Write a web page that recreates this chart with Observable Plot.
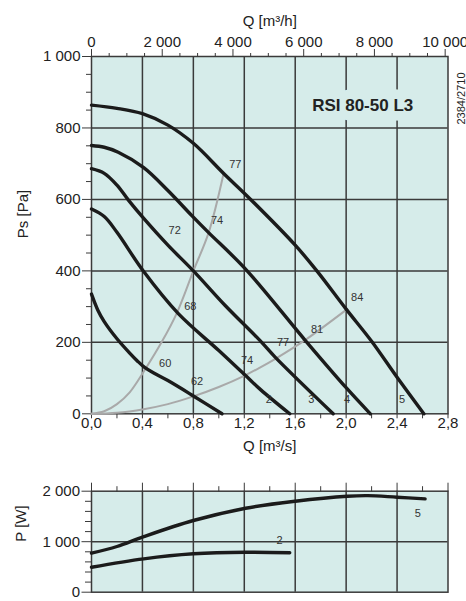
<!DOCTYPE html>
<html><head><meta charset="utf-8">
<script src="https://cdn.jsdelivr.net/npm/d3@7"></script>
<script src="https://cdn.jsdelivr.net/npm/@observablehq/plot@0.6"></script>
<style>
body{margin:0;background:#fff;font-family:"Liberation Sans",Arial,sans-serif;}
#chart svg{display:block}
</style></head><body><div id="chart"></div>
<script>
// ---- data ----
const qTicks = [0, 0.4, 0.8, 1.2, 1.6, 2.0, 2.4, 2.8];
const qMinor = [0.2, 0.6, 1.0, 1.4, 1.8, 2.2, 2.6];
const m3hMajor = [0, 2000, 4000, 6000, 8000, 10000];
const m3hMinor = [500, 1000, 1500, 2500, 3000, 3500, 4500, 5000, 5500, 6500, 7000, 7500, 8500, 9000, 9500];
const psMajor = [0, 200, 400, 600, 800, 1000];
const psMinor = [50, 100, 150, 250, 300, 350, 450, 500, 550, 650, 700, 750, 850, 900, 950];
const pMajor = [0, 1000, 2000];
const pMinor = [200, 400, 600, 800, 1200, 1400, 1600, 1800];

const fan1 = [[0,335],[0.05,290],[0.1,258],[0.2,210],[0.3,170],[0.36,148],[0.42,129],[0.5,112],[0.6,93],[0.8,50],[1.025,0]];
const fan2 = [[0,573],[0.1,552],[0.2,508],[0.41,398],[0.68,281],[1.0,177],[1.21,107],[1.33,67],[1.557,0]];
const fan3 = [[0,686],[0.1,673],[0.2,640],[0.29,598],[0.4,551],[0.6,472],[0.8,400],[1.05,303],[1.326,204],[1.444,158],[1.898,0]];
const fan4 = [[0,751],[0.1,746],[0.21,732],[0.41,689],[0.6,625],[0.79,554],[0.92,507],[1.21,405],[1.68,205],[2.0,73],[2.19,0]];
const fan5 = [[0,864],[0.2,855],[0.4,840],[0.6,808],[0.8,757],[1.04,672],[1.25,600],[1.6,472],[1.77,400],[2.0,293],[2.2,203],[2.4,102],[2.61,0]];
const sysSteep = [[0,0],[0.1,7],[0.2,27],[0.3,60],[0.417,122],[0.55,200],[0.67,282],[0.8,400],[0.92,507],[1.037,672]];
const sysFlat = [[0,0],[0.2,3],[0.41,13],[0.6,27],[0.794,48],[1.0,75],[1.203,107],[1.326,130],[1.444,154],[1.68,207],[2.008,293]];
const pow5 = [[0,772],[0.2,905],[0.41,1100],[0.8,1420],[1.21,1663],[1.6,1802],[2.01,1900],[2.17,1912],[2.4,1881],[2.62,1849]];
const pow2 = [[0,495],[0.41,661],[0.8,760],[1.21,792],[1.557,780]];

const effLabels = [["60",0.579,141],["68",0.776,300],["72",0.653,514],["74",0.986,540],["77",1.13,698],
  ["62",0.829,91],["74",1.222,149],["77",1.505,200],["81",1.772,237],["84",2.087,326]];
const curveLabels = [["2",1.392,39],["3",1.727,39],["4",2.008,39],["5",2.44,39]];
const powLabels = [["2",1.478,1024],["5",2.563,1552]];
const title = "RSI 80-50 L3";
const code = "2384/2710";

// ---- style ----
const bg = "#d6ecea", grid = "#3a3a3a", ink = "#1b1b1b", gray = "#a9a9a9", txt = "#222";
const font = "Liberation Sans, Arial, sans-serif";
const fmtSp = v => String(v).replace(/\B(?=(\d{3})+(?!\d))/g, " ");
const fmtQ = d => d.toFixed(1).replace(".", ",");
const none = () => "";
const X = d => d[1], Y = d => d[2], T = d => d[0];

const topPlot = Plot.plot({
  width: 466, height: 470,
  marginLeft: 91, marginRight: 18.5, marginTop: 56, marginBottom: 56.7,
  x: {domain: [0, 2.8]},
  y: {domain: [0, 1000]},
  style: {fontFamily: font, color: txt, background: "transparent", overflow: "visible"},
  marks: [
    Plot.frame({fill: bg, stroke: null}),
    Plot.ruleX(qTicks.slice(1, -1), {stroke: grid, strokeWidth: 1.5}),
    Plot.ruleY(psMajor.slice(1, -1), {stroke: grid, strokeWidth: 1.5}),
    Plot.text([title], {x: 2.13, y: 862, text: d => d, fontSize: 17, fontWeight: "bold", fill: txt,
      stroke: bg, strokeWidth: 19, paintOrder: "stroke"}),
    Plot.frame({stroke: grid, strokeWidth: 1.5}),
    Plot.axisX(qTicks, {anchor: "bottom", tickSize: 5, tickPadding: -1, tickFormat: fmtQ, fontSize: 15, label: null, stroke: grid}),
    Plot.axisX(qMinor, {anchor: "bottom", tickSize: 5, tickFormat: none, label: null, stroke: grid}),
    Plot.axisX(m3hMajor.map(v => v / 3600), {anchor: "top", tickSize: 8, tickPadding: 2, tickFormat: d => fmtSp(Math.round(d * 3600)), fontSize: 15, label: null, stroke: grid}),
    Plot.axisX(m3hMinor.map(v => v / 3600), {anchor: "top", tickSize: 4, tickFormat: none, label: null, stroke: grid}),
    Plot.axisY(psMajor, {anchor: "left", tickSize: 9, tickPadding: 2, tickFormat: fmtSp, fontSize: 15, label: null, stroke: grid}),
    Plot.axisY(psMinor, {anchor: "left", tickSize: 5, tickFormat: none, label: null, stroke: grid}),
    Plot.text(["Q [m³/s]"], {frameAnchor: "bottom", dy: 37, text: d => d, fontSize: 15, fill: txt}),
    Plot.text(["Q [m³/h]"], {frameAnchor: "top", dy: -41, text: d => d, fontSize: 15, fill: txt}),
    Plot.text(["Ps [Pa]"], {frameAnchor: "left", dx: -68, dy: 3, rotate: -90, text: d => d, fontSize: 15, fill: txt}),
    Plot.text([code], {frameAnchor: "top-right", dx: 13, dy: 42, rotate: -90, textAnchor: "middle", lineAnchor: "middle", text: d => d, fontSize: 11, fill: txt}),
    Plot.line(sysSteep, {x: d => d[0], y: d => d[1], stroke: gray, strokeWidth: 2, curve: "catmull-rom"}),
    Plot.line(sysFlat, {x: d => d[0], y: d => d[1], stroke: gray, strokeWidth: 2, curve: "catmull-rom"}),
    ...[fan1, fan2, fan3, fan4, fan5].map(f => Plot.line(f, {x: d => d[0], y: d => d[1], stroke: ink, strokeWidth: 3.4, curve: "catmull-rom"})),
    Plot.text(effLabels, {x: X, y: Y, text: T, fontSize: 11, fill: "#333"}),
    Plot.text(curveLabels, {x: X, y: Y, text: T, fontSize: 11, fill: "#333"})
  ]
});

const botPlot = Plot.plot({
  width: 466, height: 131,
  marginLeft: 91, marginRight: 18.5, marginTop: 20.7, marginBottom: 9.3,
  x: {domain: [0, 2.8]},
  y: {domain: [0, 2000]},
  style: {fontFamily: font, color: txt, background: "transparent", overflow: "visible"},
  marks: [
    Plot.frame({fill: bg, stroke: null}),
    Plot.ruleX(qTicks.slice(1, -1), {stroke: grid, strokeWidth: 1.5}),
    Plot.ruleY([1000], {stroke: grid, strokeWidth: 1.5}),
    Plot.frame({stroke: grid, strokeWidth: 1.5}),
    Plot.axisX(qTicks, {anchor: "top", tickSize: 9, tickFormat: none, label: null, stroke: grid}),
    Plot.axisX(qMinor, {anchor: "top", tickSize: 5.5, tickFormat: none, label: null, stroke: grid}),
    Plot.axisY(pMajor, {anchor: "left", tickSize: 9.5, tickPadding: 2, tickFormat: fmtSp, fontSize: 15, label: null, stroke: grid}),
    Plot.axisY(pMinor, {anchor: "left", tickSize: 6, tickFormat: none, label: null, stroke: grid}),
    Plot.text(["P [W]"], {frameAnchor: "left", dx: -70, rotate: -90, text: d => d, fontSize: 15, fill: txt}),
    ...[pow2, pow5].map(f => Plot.line(f, {x: d => d[0], y: d => d[1], stroke: ink, strokeWidth: 3.4, curve: "catmull-rom"})),
    Plot.text(powLabels, {x: X, y: Y, text: T, fontSize: 11, fill: "#333"})
  ]
});

const c = document.getElementById("chart");
c.append(topPlot, botPlot);
</script>
</body></html>
